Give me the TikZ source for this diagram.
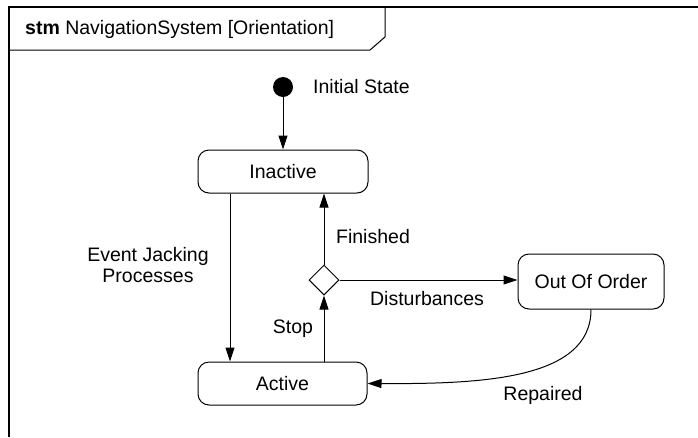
\documentclass[tikz,border=0pt]{standalone}
\usepackage{fontspec}
\setmainfont{Liberation Sans}
\usetikzlibrary{arrows.meta,shapes.geometric}
\begin{document}
\begin{tikzpicture}[x=1pt,y=-1pt,
  every node/.style={font=\fontsize{19.5}{23}\selectfont},
  statebox/.style={draw,rounded corners=11pt,line width=1pt,inner sep=0pt},
  lbl/.style={inner sep=0pt,align=center},
  conn/.style={line width=1pt,-{Triangle[length=14pt,width=9pt]}}]
\useasboundingbox (0,0) rectangle (698,437);
% frame (only top and left edges visible)
\draw[line width=1.2pt] (698,7) -- (9,7) -- (9,437);
\draw[line width=1pt] (9,50) -- (370,50) -- (385,37) -- (385,7);
\node[lbl,anchor=west] (title) at (25,29) {\textbf{stm} NavigationSystem [Orientation]};
% states
\node[circle,fill=black,minimum size=20pt,inner sep=0pt] (init) at (283,87) {};
\node[lbl,anchor=west] (initlbl) at (313,87) {Initial State};
\node[statebox,minimum width=170pt,minimum height=43pt] (inactive) at (283,171.5) {Inactive};
\node[statebox,minimum width=169pt,minimum height=43pt] (active) at (282.5,383.5) {Active};
\node[statebox,minimum width=146pt,minimum height=55pt] (ooo) at (591,281.5) {Out Of Order};
\node[diamond,draw,line width=1pt,minimum width=30pt,minimum height=30pt,inner sep=0pt] (dec) at (324,280) {};
% connectors
\draw[conn] (init) -- (inactive);
\draw[conn] (inactive.south -| 230,0) -- (active.north -| 230,0);
\draw[conn] (active.north -| dec) -- (dec.south);
\draw[conn] (dec.north) -- (inactive.south -| dec);
\draw[conn] (dec.east) -- (ooo.west |- dec.east);
\draw[conn] (ooo.south) .. controls (591,380) and (480,384) .. (active.east);
% labels
\node[lbl] (ejp) at (148,265) {Event Jacking\\[-2pt]Processes};
\node[lbl] (fin) at (373,237) {Finished};
\node[lbl] (stop) at (293,329) {Stop};
\node[lbl] (dist) at (427,299) {Disturbances};
\node[lbl] (rep) at (543,395) {Repaired};
\end{tikzpicture}
\end{document}
